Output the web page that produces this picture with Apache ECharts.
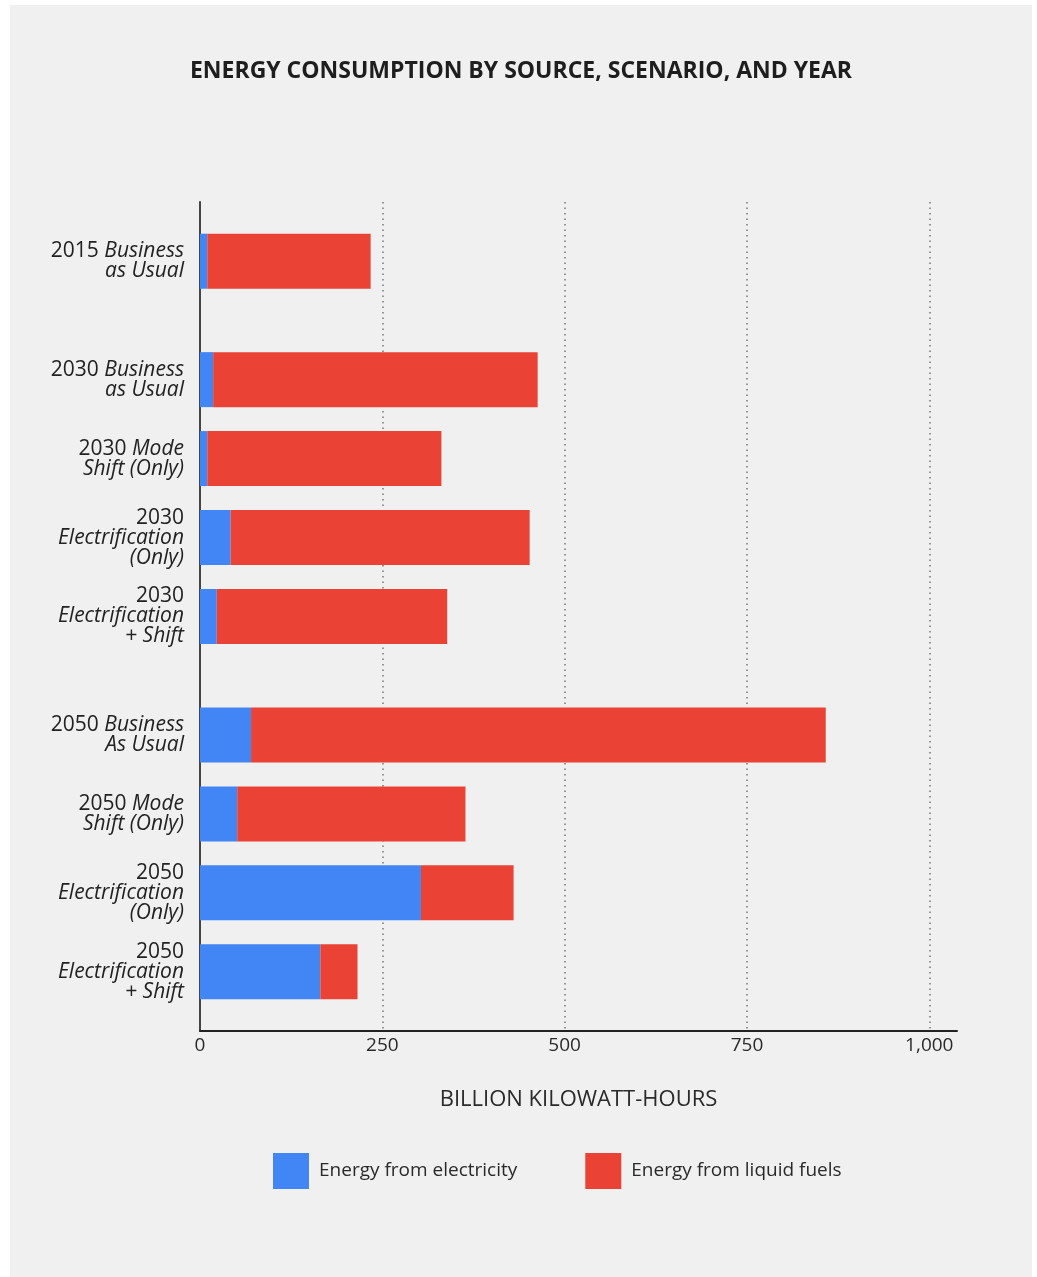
<!DOCTYPE html>
<html>
<head>
<meta charset="utf-8">
<script src="https://cdn.jsdelivr.net/npm/echarts@6/dist/echarts.min.js"></script>
<style>
  html, body { margin: 0; padding: 0; background: #ffffff; }
  #chart { position: absolute; left: 10px; top: 5px; width: 1022px; height: 1272px; background: #f0f0f0; }
</style>
</head>
<body>
<div id="chart"></div>
<script>
// scenarios, '' = empty spacer row
var categories = [
    '',
    '2015 Business\nas Usual',
    '', '',
    '2030 Business\nas Usual',
    '',
    '2030 Mode\nShift (Only)',
    '',
    '2030\nElectrification\n(Only)',
    '',
    '2030\nElectrification\n+ Shift',
    '', '',
    '2050 Business\nAs Usual',
    '',
    '2050 Mode\nShift (Only)',
    '',
    '2050\nElectrification\n(Only)',
    '',
    '2050\nElectrification\n+ Shift',
    ''
];
// billion kWh
var electricity = [null, 10, null, null, 18, null, 10, null, 42, null, 23, null, null, 70, null, 51, null, 303, null, 165, null];
var liquidFuels = [null, 224, null, null, 445, null, 321, null, 410, null, 316, null, null, 788, null, 313, null, 127, null, 51, null];
var xTicks = [0, 250, 500, 750, 1000];

function yLabel(value) {
    return value.split('\n').map(function (line) {
        var m = line.match(/^(\d{4})(.*)$/);
        if (m) {
            return '{n|' + m[1] + '}' + (m[2] ? '{i|' + m[2] + '}' : '');
        }
        return '{i|' + line + '}';
    }).join('\n');
}

var myChart = echarts.init(document.getElementById('chart'));

var option = {
    animation: false,
    title: {
        text: 'ENERGY CONSUMPTION BY SOURCE, SCENARIO, AND YEAR',
        left: 'center',
        top: 50,
        textStyle: { fontFamily: 'Open Sans', fontWeight: 'bold', fontSize: 23, color: '#1e1e1e' }
    },
    legend: {
        data: ['Energy from electricity', 'Energy from liquid fuels'],
        left: 258,
        top: 1143,
        itemWidth: 36,
        itemHeight: 36,
        itemGap: 68,
        icon: 'rect',
        textStyle: { fontFamily: 'Open Sans', fontSize: 19, color: '#2a2a2a', padding: [4, 0, 0, 5] }
    },
    grid: {
        left: 190,
        top: 197,
        width: 757,
        height: 829,
        containLabel: false
    },
    xAxis: {
        type: 'value',
        min: 0,
        max: 1038,
        interval: 250,
        name: 'BILLION KILOWATT-HOURS',
        nameLocation: 'middle',
        nameGap: 58,
        nameTextStyle: { fontFamily: 'Open Sans', fontSize: 22, color: '#2a2a2a' },
        axisLine: { show: true, lineStyle: { color: '#222', width: 2 } },
        axisTick: { show: false },
        axisLabel: {
            showMaxLabel: false,
            margin: 5,
            fontFamily: 'Open Sans',
            fontSize: 19,
            color: '#2a2a2a',
            formatter: function (v) {
                return xTicks.indexOf(v) >= 0 ? v.toLocaleString('en-US') : '';
            }
        },
        splitLine: {
            show: true,
            showMinLine: false,
            showMaxLine: false,
            lineStyle: { type: [1.5, 4], color: '#777', width: 1.5 }
        }
    },
    yAxis: {
        type: 'category',
        inverse: true,
        data: categories,
        axisLine: { show: true, lineStyle: { color: '#444', width: 2 } },
        axisTick: { show: false },
        axisLabel: {
            interval: 0,
            margin: 16,
            align: 'right',
            formatter: yLabel,
            rich: {
                n: { fontFamily: 'Open Sans', fontSize: 21, lineHeight: 20, color: '#222' },
                i: { fontFamily: 'Open Sans', fontStyle: 'italic', fontSize: 21, lineHeight: 20, color: '#222' }
            }
        },
        splitLine: { show: false }
    },
    series: [
        {
            name: 'Energy from electricity',
            type: 'bar',
            stack: 'total',
            barWidth: 55,
            itemStyle: { color: '#4285f4' },
            data: electricity
        },
        {
            name: 'Energy from liquid fuels',
            type: 'bar',
            stack: 'total',
            barWidth: 55,
            itemStyle: { color: '#ea4335' },
            data: liquidFuels
        }
    ]
};
myChart.setOption(option);
</script>
</body>
</html>
